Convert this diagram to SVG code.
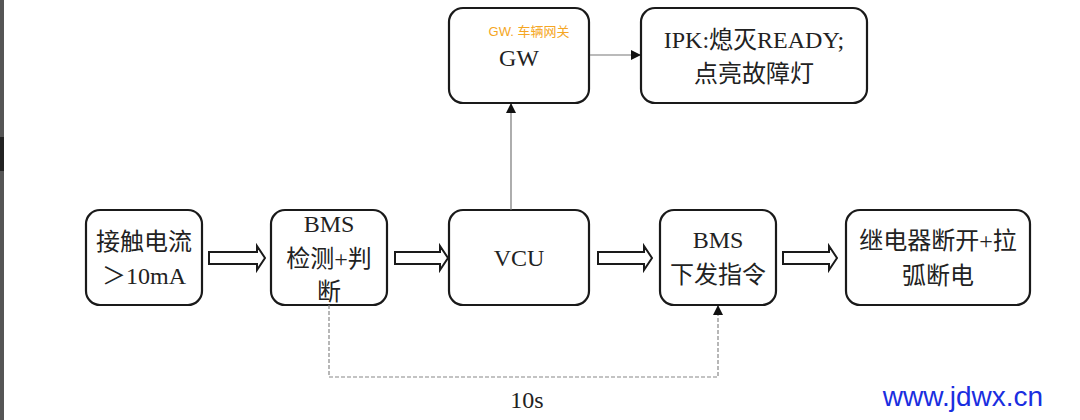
<svg xmlns="http://www.w3.org/2000/svg" width="1080" height="420" viewBox="0 0 1080 420">
<style>
.b{fill:#fff;stroke:#1a1a1a;stroke-width:2.2}
.t{font-family:"Liberation Serif","Noto Sans CJK SC",serif;font-size:24px;fill:#222;text-anchor:middle}
.h{fill:#fff;stroke:#1a1a1a;stroke-width:2}
</style>
<defs><marker id="a" markerWidth="10" markerHeight="10" refX="9" refY="5" orient="auto" markerUnits="userSpaceOnUse"><path d="M0,0L10,5L0,10z" fill="#111"/></marker></defs>
<rect width="1080" height="420" fill="#fff"/>
<rect x="0" y="0" width="4" height="420" fill="#555"/>
<rect x="0" y="137" width="4" height="34" fill="#222"/>
<g id="n1"><rect class="b" x="86" y="210" width="116" height="95" rx="14"/><text class="t" x="144" y="250">接触电流</text><text class="t" x="144" y="284">＞10mA</text></g>
<g id="n2"><rect class="b" x="271" y="210" width="116" height="95" rx="14"/><text class="t" x="329" y="232">BMS</text><text class="t" x="329" y="267">检测+判</text><text class="t" x="329" y="300">断</text></g>
<g id="n3"><rect class="b" x="449" y="210" width="140" height="95" rx="14"/><text class="t" x="519" y="266">VCU</text></g>
<g id="n4"><rect class="b" x="660" y="210" width="116" height="95" rx="14"/><text class="t" x="718" y="248">BMS</text><text class="t" x="718" y="283">下发指令</text></g>
<g id="n5"><rect class="b" x="846" y="210" width="184" height="95" rx="14"/><text class="t" x="938" y="249">继电器断开+拉</text><text class="t" x="938" y="284">弧断电</text></g>
<g id="gw"><rect class="b" x="449" y="8" width="140" height="95" rx="14"/><text x="529" y="36" font-family="Liberation Sans,Noto Sans CJK SC,sans-serif" font-size="13" fill="#f5a623" text-anchor="middle">GW. 车辆网关</text><text class="t" x="519" y="66">GW</text></g>
<g id="ipk"><rect class="b" x="641" y="8" width="226" height="95" rx="14"/><text class="t" x="754" y="48">IPK:熄灭READY;</text><text class="t" x="754" y="82">点亮故障灯</text></g>
<g id="connectors">
<path class="h" d="M209,252H257V246L265,258L257,270V264H209Z"/>
<path class="h" d="M395,252H440V246L448,258L440,270V264H395Z"/>
<path class="h" d="M598,252H644V246L652,258L644,270V264H598Z"/>
<path class="h" d="M783,252H829V246L837,258L829,270V264H783Z"/>
<line x1="511" y1="210" x2="511" y2="104" stroke="#777" stroke-width="1.2" marker-end="url(#a)"/>
<line x1="590" y1="55" x2="640" y2="55" stroke="#777" stroke-width="1.2" marker-end="url(#a)"/>
<path d="M329,305V377H718V306" fill="none" stroke="#888" stroke-width="1.2" stroke-dasharray="4,2" marker-end="url(#a)"/>
</g>
<text class="t" x="527" y="408" font-size="22">10s</text>
<text x="963" y="406" font-family="Liberation Sans,sans-serif" font-size="28" fill="#1a2ee0" text-anchor="middle">www.jdwx.cn</text>
</svg>
